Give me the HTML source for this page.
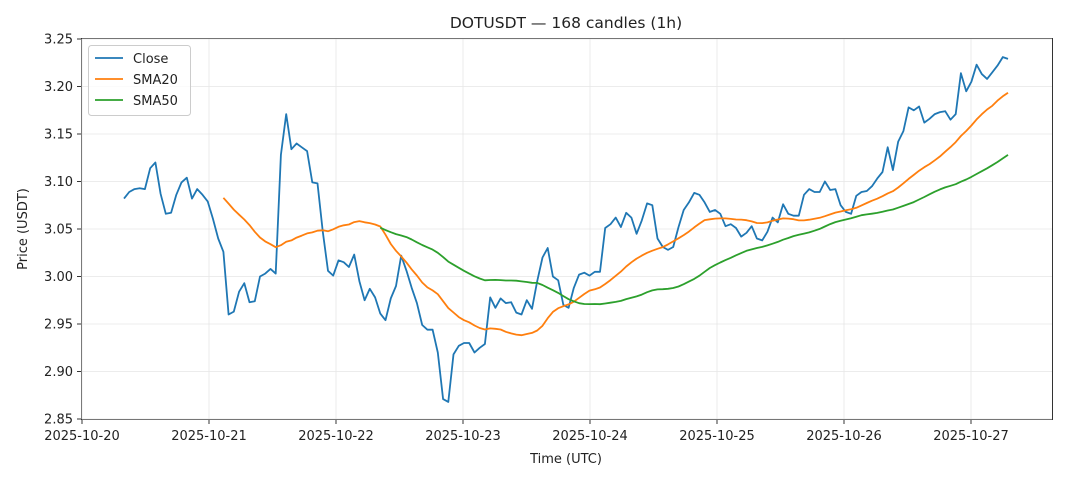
<!DOCTYPE html><html><head><style>body{margin:0;background:#fff}svg{font-family:"DejaVu Sans","Liberation Sans",sans-serif}</style></head><body>
<svg id="s" width="1068" height="481" xmlns="http://www.w3.org/2000/svg"></svg>
<script>
const c=[3.082,3.089,3.092,3.093,3.092,3.114,3.120,3.087,3.066,3.067,3.086,3.099,3.104,3.082,3.092,3.086,3.079,3.061,3.040,3.026,2.960,2.963,2.984,2.993,2.973,2.974,3.000,3.003,3.008,3.003,3.128,3.171,3.134,3.140,3.136,3.132,3.099,3.098,3.047,3.006,3.001,3.017,3.015,3.010,3.023,2.995,2.975,2.987,2.978,2.961,2.954,2.977,2.990,3.022,3.006,2.988,2.972,2.949,2.944,2.944,2.920,2.871,2.868,2.918,2.927,2.930,2.930,2.920,2.925,2.929,2.978,2.967,2.977,2.972,2.973,2.962,2.960,2.975,2.966,2.995,3.020,3.030,3.000,2.996,2.970,2.967,2.988,3.002,3.004,3.001,3.005,3.005,3.051,3.055,3.062,3.052,3.067,3.062,3.045,3.059,3.077,3.075,3.040,3.031,3.028,3.031,3.052,3.070,3.078,3.088,3.086,3.078,3.068,3.070,3.066,3.053,3.055,3.051,3.042,3.046,3.053,3.040,3.038,3.047,3.062,3.057,3.076,3.066,3.064,3.064,3.086,3.092,3.089,3.089,3.100,3.091,3.092,3.075,3.068,3.066,3.085,3.089,3.090,3.095,3.103,3.110,3.136,3.112,3.142,3.153,3.178,3.175,3.179,3.162,3.166,3.171,3.173,3.174,3.165,3.171,3.214,3.195,3.205,3.223,3.213,3.208,3.215,3.222,3.231,3.229];
const n=c.length,X=i=>124+i*(1008-124)/(n-1),Y=v=>39+(3.25-v)*950;
let h='<rect x="81.5" y="38.5" width="971" height="381" fill="none" stroke="#000" stroke-width="0.8"/>';
const days=['2025-10-20','2025-10-21','2025-10-22','2025-10-23','2025-10-24','2025-10-25','2025-10-26','2025-10-27'];
days.forEach((d,k)=>{const x=82+127*k;h+=`<line x1="${x}" y1="39" x2="${x}" y2="419" stroke="#e6e6e6" stroke-width="0.8"/><line x1="${x}" y1="420" x2="${x}" y2="424" stroke="#000" stroke-width="0.8"/><text x="${x}" y="440" font-size="13" text-anchor="middle" fill="#222">${d}</text>`});
for(let k=0;k<9;k++){const v=2.85+k*0.05,y=Y(v);h+=`<line x1="82" y1="${y}" x2="1052" y2="${y}" stroke="#e6e6e6" stroke-width="0.8"/><line x1="77" y1="${y}" x2="81" y2="${y}" stroke="#000" stroke-width="0.8"/><text x="73" y="${y+4.5}" font-size="13" text-anchor="end" fill="#222">${v.toFixed(2)}</text>`}
const pl=(arr,s,col)=>{let p=[];arr.forEach((v,i)=>{if(v!=null)p.push(X(i+s).toFixed(1)+','+Y(v).toFixed(1))});return `<polyline points="${p.join(' ')}" fill="none" stroke="${col}" stroke-width="1.8" stroke-linejoin="round"/>`};
const sma=w=>{let r=[];for(let i=w-1;i<n;i++){let s=0;for(let j=i-w+1;j<=i;j++)s+=c[j];r.push(s/w)}return r};
h+=pl(c,0,'#1f77b4')+pl(sma(20),19,'#ff7f0e')+pl(sma(50),49,'#2ca02c');
h+='<text x="566" y="28" font-size="15.5" text-anchor="middle" fill="#222">DOTUSDT — 168 candles (1h)</text>';
h+='<text x="566" y="463" font-size="13" text-anchor="middle" fill="#222">Time (UTC)</text>';
h+='<text transform="translate(27,229) rotate(-90)" font-size="13" text-anchor="middle" fill="#222">Price (USDT)</text>';
h+='<rect x="88.5" y="45.5" width="102" height="70" rx="3" fill="#fff" fill-opacity="0.8" stroke="#ccc"/>';
[['Close','#1f77b4'],['SMA20','#ff7f0e'],['SMA50','#2ca02c']].forEach((l,k)=>{const y=58+k*21;h+=`<line x1="95" y1="${y}" x2="123" y2="${y}" stroke="${l[1]}" stroke-width="1.8"/><text x="133" y="${y+5}" font-size="13" fill="#222">${l[0]}</text>`});
document.getElementById('s').innerHTML=h;
</script></body></html>
